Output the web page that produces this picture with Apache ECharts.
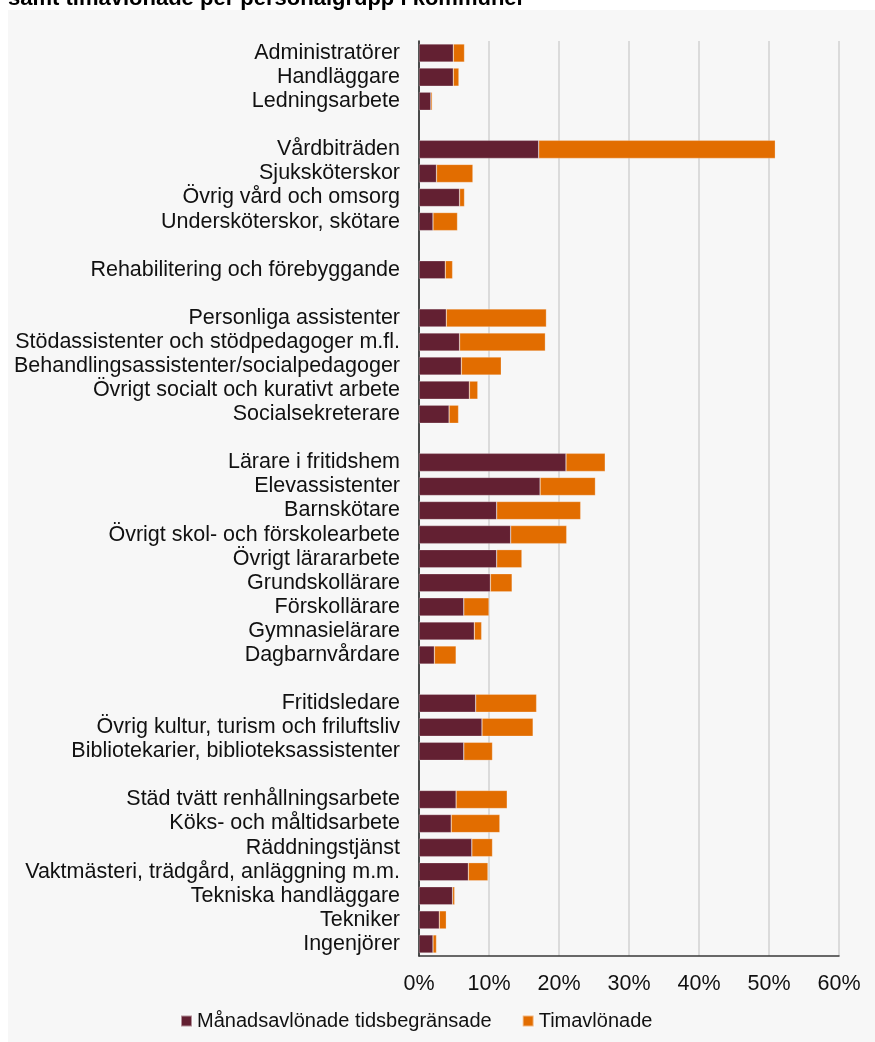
<!DOCTYPE html>
<html>
<head>
<meta charset="utf-8">
<title>Tidsbegränsat anställda per personalgrupp</title>
<script src="https://cdn.jsdelivr.net/npm/echarts@6/dist/echarts.min.js"></script>
<style>
  html, body { margin: 0; padding: 0; background: #fff; }
  #chart { width: 875px; height: 1042px; }
</style>
</head>
<body>
<div id="chart"></div>
<script>
// personalgrupper, tomma rader (mellanslag) skiljer grupperna åt
var categories = [
  'Administratörer', 'Handläggare', 'Ledningsarbete', ' ',
  'Vårdbiträden', 'Sjuksköterskor', 'Övrig vård och omsorg', 'Undersköterskor, skötare', '  ',
  'Rehabilitering och förebyggande', '   ',
  'Personliga assistenter', 'Stödassistenter och stödpedagoger m.fl.', 'Behandlingsassistenter/socialpedagoger',
  'Övrigt socialt och kurativt arbete', 'Socialsekreterare', '    ',
  'Lärare i fritidshem', 'Elevassistenter', 'Barnskötare', 'Övrigt skol- och förskolearbete',
  'Övrigt lärararbete', 'Grundskollärare', 'Förskollärare', 'Gymnasielärare', 'Dagbarnvårdare', '     ',
  'Fritidsledare', 'Övrig kultur, turism och friluftsliv', 'Bibliotekarier, biblioteksassistenter', '      ',
  'Städ tvätt renhållningsarbete', 'Köks- och måltidsarbete', 'Räddningstjänst',
  'Vaktmästeri, trädgård, anläggning m.m.', 'Tekniska handläggare', 'Tekniker', 'Ingenjörer'
];

// andel (%) månadsavlönade tidsbegränsade
var manadsavlonade = [
  4.9, 4.9, 1.7, null,
  17.1, 2.5, 5.8, 2.0, null,
  3.75, null,
  3.9, 5.8, 6.05, 7.2, 4.3, null,
  21.0, 17.3, 11.1, 13.1, 11.1, 10.2, 6.4, 7.9, 2.2, null,
  8.1, 9.0, 6.4, null,
  5.3, 4.6, 7.55, 7.05, 4.8, 2.9, 2.0
];

// andel (%) timavlönade
var timavlonade = [
  1.6, 0.8, 0.2, null,
  33.8, 5.2, 0.7, 3.5, null,
  1.05, null,
  14.3, 12.25, 5.7, 1.2, 1.35, null,
  5.6, 7.9, 12.0, 8.0, 3.6, 3.1, 3.6, 1.05, 3.1, null,
  8.7, 7.3, 4.1, null,
  7.3, 6.95, 2.95, 2.8, 0.3, 1.0, 0.5
];

var seriesNames = ['Månadsavlönade tidsbegränsade', 'Timavlönade'];
var titleText = 'samt timavlönade per personalgrupp i kommuner';

var FONT = '"Liberation Sans", Arial, sans-serif';

var myChart = echarts.init(document.getElementById('chart'));

myChart.setOption({
  animation: false,
  backgroundColor: '#ffffff',
  textStyle: { fontFamily: FONT },
  title: {
    text: titleText,
    left: 8,
    top: -12,
    padding: 0,
    textStyle: { fontFamily: FONT, fontSize: 22, fontWeight: 'bold', color: '#000' }
  },
  // grå bakgrundsyta
  graphic: [{
    type: 'rect',
    z: -10,
    silent: true,
    shape: { x: 8, y: 10, width: 867, height: 1032 },
    style: { fill: '#f7f7f7' }
  }],
  legend: {
    data: seriesNames,
    left: 180,
    top: 1011,
    padding: 0,
    icon: 'rect',
    itemWidth: 11,
    itemHeight: 11,
    itemGap: 30,
    textStyle: { fontFamily: FONT, fontSize: 20, color: '#111' }
  },
  grid: {
    left: 419,
    right: 36,
    top: 41,
    bottom: 86,
    containLabel: false,
    outerBoundsMode: 'none'
  },
  xAxis: {
    type: 'value',
    min: 0,
    max: 60,
    interval: 10,
    axisLine: { show: true, lineStyle: { color: '#3a3a3a', width: 1.5 } },
    axisTick: { show: false },
    axisLabel: {
      formatter: '{value}%',
      fontFamily: FONT,
      fontSize: 21.5,
      color: '#111',
      margin: 17
    },
    splitLine: { lineStyle: { color: '#d2d2d2', width: 1.5 } }
  },
  yAxis: {
    type: 'category',
    inverse: true,
    data: categories,
    axisLine: { show: true, lineStyle: { color: '#1a1a1a', width: 1.5 } },
    axisTick: { show: false },
    axisLabel: {
      interval: 0,
      fontFamily: FONT,
      fontSize: 21.5,
      color: '#111',
      margin: 19
    }
  },
  series: [
    {
      name: seriesNames[0],
      type: 'bar',
      stack: 'andel',
      barWidth: '75%',
      itemStyle: { color: '#632032', borderColor: 'rgba(255,255,255,0.5)', borderWidth: 0.5 },
      data: manadsavlonade
    },
    {
      name: seriesNames[1],
      type: 'bar',
      stack: 'andel',
      barWidth: '75%',
      itemStyle: { color: '#e26d00', borderColor: 'rgba(255,255,255,0.5)', borderWidth: 0.5 },
      data: timavlonade
    }
  ]
});
</script>
</body>
</html>
